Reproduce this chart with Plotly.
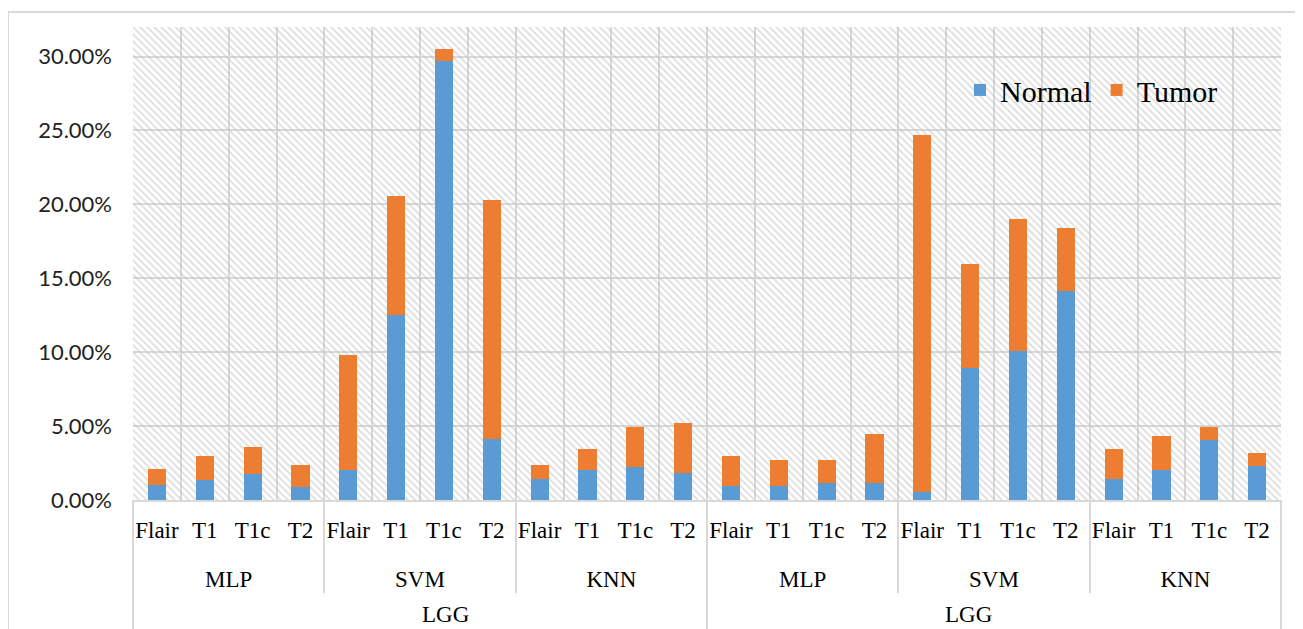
import plotly.graph_objects as go

# ---------------- data ----------------
groups = ["LGG", "LGG"]
classifiers = ["MLP", "SVM", "KNN"]
modalities = ["Flair", "T1", "T1c", "T2"]

normal = [
    0.0103, 0.0134, 0.0173, 0.0087,   # LGG / MLP
    0.0204, 0.1255, 0.2970, 0.0416,   # LGG / SVM
    0.0143, 0.0202, 0.0222, 0.0184,   # LGG / KNN
    0.0094, 0.0094, 0.0114, 0.0114,   # LGG / MLP
    0.0055, 0.0890, 0.1009, 0.1417,   # LGG / SVM
    0.0143, 0.0202, 0.0409, 0.0231,   # LGG / KNN
]
tumor = [
    0.0108, 0.0165, 0.0187, 0.0153,
    0.0774, 0.0805, 0.0080, 0.1617,
    0.0097, 0.0140, 0.0273, 0.0334,
    0.0205, 0.0178, 0.0158, 0.0334,
    0.2413, 0.0705, 0.0893, 0.0425,
    0.0205, 0.0234, 0.0086, 0.0088,
]
y_ticks = [0, 0.05, 0.10, 0.15, 0.20, 0.25, 0.30]
y_max = 0.32

# build the two-level categorical x (group index kept unique with a zero-width suffix;
# a leading line break drops the classifier row lower, as in the reference)
lvl1, lvl2 = [], []
for gi, g in enumerate(groups):
    for c in classifiers:
        for m in modalities:
            lvl1.append("<br>" + c + "\u200b" * gi)
            lvl2.append(m)

BLUE = "#5B9BD5"
ORANGE = "#ED7D31"
GRID = "#D9D9D9"
SERIF = "Liberation Serif, Times New Roman, serif"

# page has an 8px body margin; positions below are in figure pixels
OFF = 8
W, H = 1303 - OFF, 629 - OFF
plot_l, plot_r, plot_t, plot_b = 133 - OFF, 1281 - OFF, 27 - OFF, 500.5 - OFF
pw, ph = plot_r - plot_l, plot_b - plot_t


def px_x(px):
    return (px - OFF - plot_l) / pw


def px_y(py):
    return (plot_b - (py - OFF)) / ph


fig = go.Figure()

# hatched plot-area background (decoration) on hidden base axis
fig.add_trace(go.Bar(
    x=[0.5], y=[y_max], width=[1.0], xaxis="x", yaxis="y",
    marker=dict(color="rgba(0,0,0,0)", line=dict(width=0),
                pattern=dict(shape="\\", fgcolor="#BDBDBD", bgcolor="rgba(0,0,0,0)",
                             size=5, solidity=0.35)),
    showlegend=False, hoverinfo="skip",
))

fig.add_trace(go.Bar(name="Normal", x=[lvl1, lvl2], y=normal, xaxis="x2", yaxis="y",
                     marker=dict(color=BLUE, line=dict(width=0))))
fig.add_trace(go.Bar(name="Tumor", x=[lvl1, lvl2], y=tumor, xaxis="x2", yaxis="y",
                     marker=dict(color=ORANGE, line=dict(width=0))))

fig.update_layout(
    width=W, height=H,
    margin=dict(l=plot_l, r=W - plot_r, t=plot_t, b=H - plot_b, pad=0, autoexpand=False),
    paper_bgcolor="white", plot_bgcolor="white",
    barmode="stack", bargap=0.62,
    font=dict(family=SERIF, color="#000000"),
    xaxis=dict(visible=False, range=[0, 1], fixedrange=True),
    xaxis2=dict(
        type="multicategory", overlaying="x", side="bottom", anchor="y",
        tickson="boundaries", ticks="", tickangle=0, automargin=False,
        ticklabelstandoff=8,
        showgrid=True, gridcolor=GRID, gridwidth=2,
        showline=True, linecolor=GRID, linewidth=2,
        showdividers=True, dividercolor=GRID, dividerwidth=2,
        tickfont=dict(family=SERIF, size=23, color="#000000"),
    ),
    yaxis=dict(
        range=[0, y_max], tickvals=y_ticks, tickformat=".2%",
        showgrid=True, gridcolor=GRID, gridwidth=2, zeroline=False,
        showline=False, ticks="", ticklabelstandoff=20, automargin=False,
        tickfont=dict(family="Lato, Open Sans, sans-serif", size=22, color="#222222"),
    ),
    legend=dict(
        orientation="h", x=px_x(960), y=px_y(90), xanchor="left", yanchor="middle",
        bgcolor="rgba(0,0,0,0)", font=dict(family=SERIF, size=30, color="#000000"),
        traceorder="normal", itemwidth=30,
    ),
)

# group (LGG) separators below the axis + outer chart border
shapes = []
for xp in [0.0, 0.5, 1.0]:
    shapes.append(dict(type="line", xref="paper", yref="paper", x0=xp, x1=xp,
                       y0=0, y1=px_y(640), line=dict(color=GRID, width=2)))
shapes.append(dict(type="rect", xref="paper", yref="paper",
                   x0=px_x(8), x1=px_x(1330), y0=px_y(660), y1=px_y(12),
                   line=dict(color=GRID, width=2), fillcolor="rgba(0,0,0,0)", layer="below"))
fig.update_layout(shapes=shapes)

# top-level group labels
n = len(groups)
for gi, g in enumerate(groups):
    fig.add_annotation(x=(gi + 0.5) / n, y=px_y(615), xref="paper", yref="paper",
                       text=g, showarrow=False, yanchor="middle",
                       font=dict(family=SERIF, size=23, color="#000000"))

fig.write_html("out.html")
